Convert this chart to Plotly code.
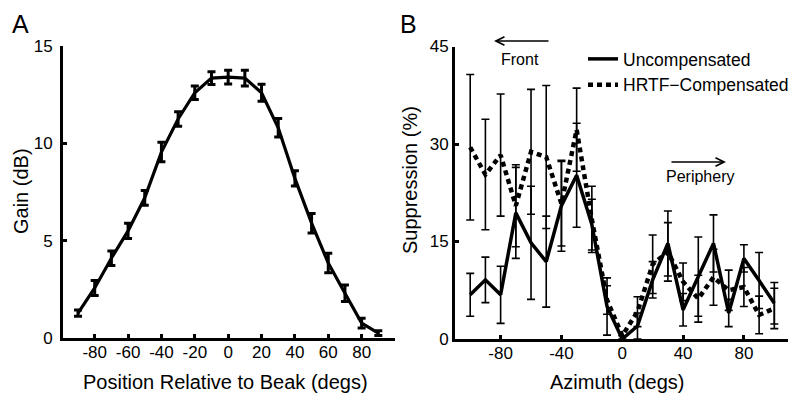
import plotly.graph_objects as go

# ---------------- data ----------------
# Panel A: gain vs position relative to beak
pos_deg = [-90, -80, -70, -60, -50, -40, -30, -20, -10, 0, 10, 20, 30, 40, 50, 60, 70, 80, 90]
gain_db = [1.28, 2.57, 4.1, 5.5, 7.2, 9.55, 11.25, 12.6, 13.35, 13.4, 13.35, 12.6, 10.8, 8.2, 5.9, 3.85, 2.3, 0.77, 0.25]
gain_err = [0.16, 0.39, 0.37, 0.39, 0.38, 0.5, 0.37, 0.35, 0.33, 0.35, 0.41, 0.44, 0.48, 0.39, 0.5, 0.5, 0.42, 0.25, 0.12]

# Panel B: suppression vs azimuth
azimuth = [-100, -90, -80, -70, -60, -50, -40, -30, -20, -10, 0, 10, 20, 30, 40, 50, 60, 70, 80, 90, 100]
uncomp = [6.8, 9.1, 6.8, 19.4, 14.8, 11.9, 20.5, 25.2, 17.6, 5.0, 0.0, 2.0, 9.1, 14.7, 4.5, 9.6, 14.7, 4.0, 12.4, 9.0, 5.5]
uncomp_err = [3.3, 3.5, 4.4, 7.0, 8.7, 7.0, 7.0, 8.0, 3.9, 4.4, 0.0, 2.0, 2.8, 5.0, 2.5, 6.1, 4.4, 2.1, 2.1, 4.3, 3.2]
hrtf = [29.5, 25.3, 28.3, 20.5, 28.8, 28.0, 20.8, 32.2, 18.4, 6.0, 0.5, 4.2, 11.5, 13.4, 8.8, 6.2, 9.5, 7.5, 8.0, 3.7, 4.7]
hrtf_err = [11.2, 8.5, 9.4, 6.3, 9.6, 11.0, 6.5, 6.4, 5.1, 2.2, 0.0, 2.3, 4.5, 4.5, 2.9, 3.6, 4.3, 3.1, 3.0, 2.9, 3.1]

a_xticks = [-80, -60, -40, -20, 0, 20, 40, 60, 80]
a_xticklabels = ["-80", "-60", "-40", "-20", "0", "20", "40", "60", "80"]
a_yticks = [0, 5, 10, 15]
b_xticks = [-80, -40, 0, 40, 80]
b_xticklabels = ["-80", "-40", "0", "40", "80"]
b_yticks = [0, 15, 30, 45]

# the page body adds an 8px margin, so the figure is 792x395 and page
# coordinates are converted by subtracting that offset
OFF = 8
W, H = 800 - OFF, 403 - OFF
FONT = "Arial, Liberation Sans, sans-serif"

def px(x):
    return (x - OFF) / W

def py(y):
    return 1 - (y - OFF) / H

fig = go.Figure()

fig.add_trace(go.Scatter(
    x=pos_deg, y=gain_db, mode="lines", xaxis="x", yaxis="y",
    line=dict(color="black", width=3.2),
    error_y=dict(type="data", array=gain_err, color="black", thickness=3, width=4),
    showlegend=False,
))

fig.add_trace(go.Scatter(
    x=azimuth, y=uncomp, mode="lines", xaxis="x2", yaxis="y2",
    name="Uncompensated",
    line=dict(color="black", width=3.5),
    error_y=dict(type="data", array=uncomp_err, color="black", thickness=1.6, width=4),
))
fig.add_trace(go.Scatter(
    x=azimuth, y=hrtf, mode="lines", xaxis="x2", yaxis="y2",
    name="HRTF\u2212Compensated",
    line=dict(color="black", width=4.5, dash="5px,4px"),
    error_y=dict(type="data", array=hrtf_err, color="black", thickness=1.6, width=4),
))

axis_common = dict(
    showline=True, linecolor="black", linewidth=3,
    ticks="inside", ticklen=4, tickwidth=3, tickcolor="black",
    showgrid=False, zeroline=False,
    tickfont=dict(family=FONT, size=17, color="black"),
)

fig.update_layout(
    width=W, height=H,
    margin=dict(l=0, r=0, t=0, b=0, autoexpand=False),
    paper_bgcolor="white", plot_bgcolor="white",
    font=dict(family=FONT, color="black"),
    xaxis=dict(domain=[px(63), px(395)], range=[-99, 100], anchor="y",
               tickmode="array", tickvals=a_xticks, ticktext=a_xticklabels,
               ticklabelstandoff=-3, **axis_common),
    yaxis=dict(domain=[py(338), py(46)], range=[0, 15], anchor="x",
               tickmode="array", tickvals=a_yticks, ticklabelstandoff=4, **axis_common),
    xaxis2=dict(domain=[px(455), px(788)], range=[-110, 109], anchor="y2",
                tickmode="array", tickvals=b_xticks, ticktext=b_xticklabels,
                ticklabelstandoff=-3, **axis_common),
    yaxis2=dict(domain=[py(339), py(46.5)], range=[0, 45], anchor="x2",
                tickmode="array", tickvals=b_yticks, ticklabelstandoff=0, **axis_common),
    legend=dict(x=px(583), y=py(41), xanchor="left", yanchor="top",
                font=dict(family=FONT, size=17.5, color="black"),
                bgcolor="rgba(0,0,0,0)", borderwidth=0, tracegroupgap=0),
)

ann = []
def text(x, y, s, size, angle=0, yanchor="middle"):
    ann.append(dict(x=px(x), y=py(y), xref="paper", yref="paper", text=s, showarrow=False,
                    xanchor="center", yanchor=yanchor, textangle=angle,
                    font=dict(family=FONT, size=size, color="black")))

text(20, 8, "A", 25, yanchor="top")
text(408, 8, "B", 25, yanchor="top")
text(225, 382, "Position Relative to Beak (degs)", 20)
text(617, 382, "Azimuth (degs)", 20)
text(21, 191, "Gain (dB)", 20, -90)
text(410, 180, "Suppression (%)", 20, -90)
text(520, 59, "Front", 16)
text(700, 176, "Periphery", 16)

# arrows
ann.append(dict(x=px(494), y=py(41), xref="paper", yref="paper", text="", showarrow=True,
                ax=56, ay=0, arrowhead=5, arrowwidth=1.3, arrowsize=1.3, arrowcolor="black"))
ann.append(dict(x=px(726), y=py(162), xref="paper", yref="paper", text="", showarrow=True,
                ax=-56, ay=0, arrowhead=5, arrowwidth=1.3, arrowsize=1.3, arrowcolor="black"))

fig.update_layout(annotations=ann)
fig.write_html("out.html")
